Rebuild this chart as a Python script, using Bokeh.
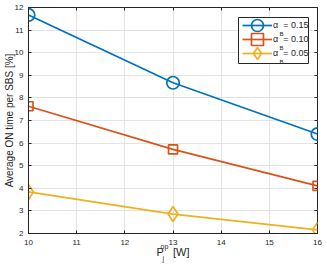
from bokeh.plotting import figure
from bokeh.models import (Legend, LegendItem, Label, LinearAxis, FixedTicker,
                          Range1d, BoxAnnotation, InlineStyleSheet, CustomJSTickFormatter)
from bokeh.embed import file_html
from bokeh.resources import INLINE

# ---- data ----
power_w = [10, 13, 16]
on_time_a015 = [11.67, 8.67, 6.40]
on_time_a010 = [7.63, 5.72, 4.11]
on_time_a005 = [3.84, 2.86, 2.16]
alpha_labels = ["0.15", "0.10", "0.05"]
x_ticks = [10, 11, 12, 13, 14, 15, 16]
y_ticks = [2, 3, 4, 5, 6, 7, 8, 9, 10, 11, 12]

FONT = "Liberation Sans"
AX = "#262626"
NB = "\u00a0"
colors = ["#0072BD", "#D95319", "#EDB120"]

p = figure(width=327, height=269, output_backend="svg", toolbar_location=None,
           x_range=Range1d(10, 16), y_range=Range1d(2, 12),
           min_border_left=27, min_border_right=8, min_border_top=7,
           min_border_bottom=36)
p.stylesheets = [InlineStyleSheet(css=":host { position: absolute !important; left: 0px !important; top: 0px !important; margin: 0 !important; }")]
p.outline_line_color = AX
p.outline_line_width = 1
p.background_fill_color = "white"
p.border_fill_color = "white"

for ax in (p.xaxis[0], p.yaxis[0]):
    ax.axis_line_color = AX
    ax.major_tick_line_color = AX
    ax.major_tick_in = 3
    ax.major_tick_out = 0
    ax.minor_tick_line_color = None
    ax.major_label_text_font = FONT
    ax.major_label_text_font_size = "8px"
    ax.major_label_text_color = AX
p.xaxis.ticker = FixedTicker(ticks=x_ticks)
p.yaxis.ticker = FixedTicker(ticks=y_ticks)
p.xaxis.major_label_standoff = 6
p.yaxis.major_label_standoff = 5
p.yaxis.axis_label = "Average ON time per SBS [%]"
p.yaxis.axis_label_text_font = FONT
p.yaxis.axis_label_text_font_size = "10px"
p.yaxis.axis_label_text_font_style = "normal"
p.yaxis.axis_label_text_color = AX
p.yaxis.axis_label_standoff = -3
p.xaxis.axis_label = "P" + NB * 3 + "[W]"
p.xaxis.axis_label_text_font = FONT
p.xaxis.axis_label_text_font_size = "11px"
p.xaxis.axis_label_text_font_style = "normal"
p.xaxis.axis_label_text_color = AX
p.xaxis.axis_label_standoff = -2

# box axes (top / right), ticks only
blank = CustomJSTickFormatter(code="return ''")
top_ax = LinearAxis(ticker=FixedTicker(ticks=x_ticks), formatter=blank,
                    axis_line_color=None, major_tick_in=3, major_tick_out=0,
                    major_tick_line_color=AX, minor_tick_line_color=None,
                    major_label_standoff=0, major_label_text_font_size="1px")
right_ax = LinearAxis(ticker=FixedTicker(ticks=y_ticks), formatter=blank,
                      axis_line_color=None, major_tick_in=3, major_tick_out=0,
                      major_tick_line_color=AX, minor_tick_line_color=None,
                      major_label_standoff=0, major_label_text_font_size="1px")
p.add_layout(top_ax, "above")
p.add_layout(right_ax, "right")

p.xgrid.ticker = FixedTicker(ticks=x_ticks)
p.ygrid.ticker = FixedTicker(ticks=y_ticks)
p.grid.grid_line_color = "#e3e3e3"
p.grid.grid_line_width = 1

series = [on_time_a015, on_time_a010, on_time_a005]
markers = ["circle", "square", "diamond"]
sizes = [12.5, 9, 15]
entries = []
for vals, c, m, s, lab in zip(series, colors, markers, sizes, alpha_labels):
    l = p.line(power_w, vals, line_color=c, line_width=1.7)
    sc = p.scatter(power_w, vals, marker=m, size=s, line_color=c, line_width=1.7,
                   fill_color=None)
    entries.append(LegendItem(label="\u03b1" + NB + " = " + lab, renderers=[l, sc]))

# legend frame
box = BoxAnnotation(left=210, right=280, top=216, bottom=170,
                    left_units="screen", right_units="screen",
                    top_units="screen", bottom_units="screen",
                    fill_color="white", fill_alpha=1.0,
                    line_color=AX, line_width=1, line_alpha=1.0)
p.add_layout(box)

for item, vy in zip(entries, [193, 179, 165]):
    lg = Legend(items=[item], location=(214, vy), padding=0, spacing=0,
                glyph_width=30, glyph_height=30, label_height=14,
                label_standoff=1, margin=0,
                label_text_font=FONT, label_text_font_size="9px",
                label_text_color=AX, border_line_alpha=0,
                background_fill_alpha=0)
    p.add_layout(lg)

for yb in [200, 186, 172]:
    p.add_layout(Label(x=251, y=yb, x_units="screen", y_units="screen", text="B",
                       text_font=FONT, text_font_size="6px", text_color=AX,
                       text_baseline="middle", text_align="left"))

# superscript / subscript of the x-axis label P_j^op (side-panel labels, unclipped)
p.add_layout(Label(x=-157, y=-13, x_units="screen", y_units="screen", text="op",
                   text_font=FONT, text_font_size="7px", text_color=AX,
                   text_baseline="alphabetic"), "right")
p.add_layout(Label(x=-163, y=-25, x_units="screen", y_units="screen", text="j",
                   text_font=FONT, text_font_size="7px", text_color=AX,
                   text_baseline="alphabetic"), "right")

open("out.html", "w").write(file_html(p, INLINE))
